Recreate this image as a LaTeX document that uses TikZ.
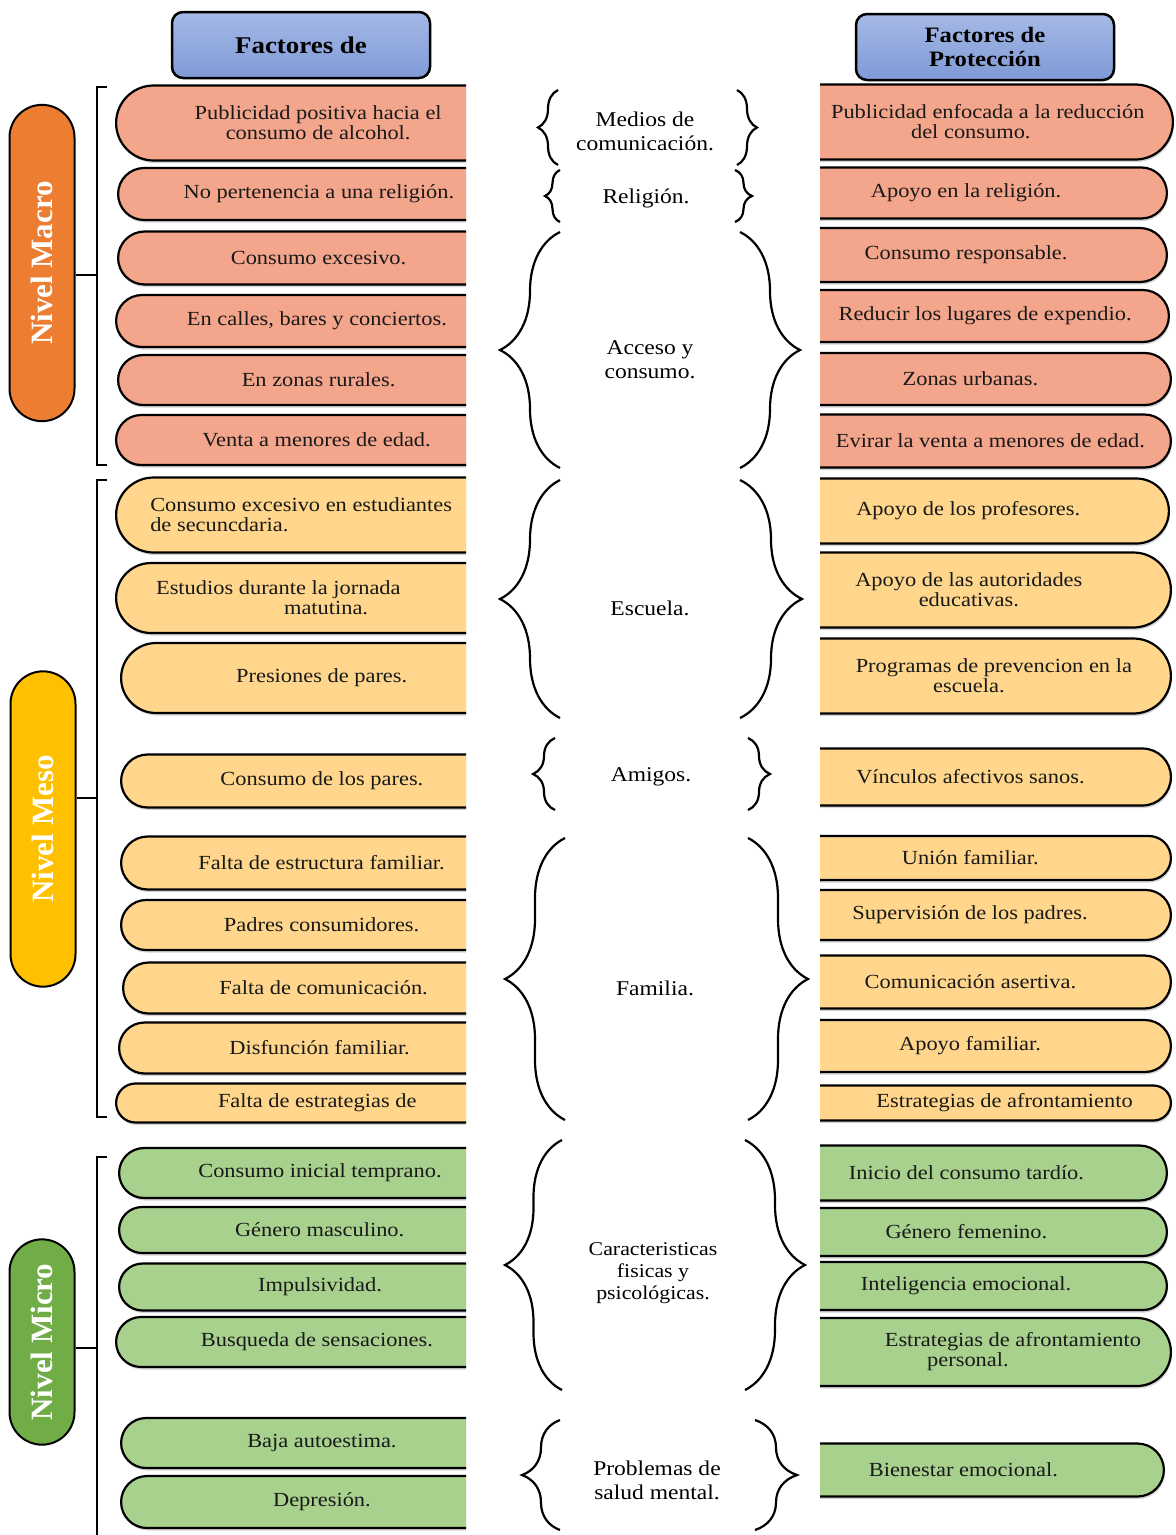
\documentclass[tikz,border=0pt]{standalone}
\usepackage{fontspec}
\setmainfont[FakeStretch=1.12]{Liberation Serif}
\newfontfamily\pillfont{Liberation Serif}
\usetikzlibrary{shapes.misc,shadows,decorations.pathreplacing,positioning}
\definecolor{headTop}{HTML}{A6B9E6}
\definecolor{headBot}{HTML}{7E9AD6}
\definecolor{macroFill}{HTML}{F4A68C}
\definecolor{mesoFill}{HTML}{FFD68B}
\definecolor{microFill}{HTML}{A9D18E}
\definecolor{macroPill}{HTML}{ED7D31}
\definecolor{mesoPill}{HTML}{FFC000}
\definecolor{microPill}{HTML}{70AD47}
\tikzset{
  riskbox/.style={rounded rectangle, rounded rectangle right arc=none, draw=black,
    line width=2.2pt, fill=#1, minimum width=400pt, anchor=west, align=center,
    inner sep=0pt, text=black!90, font=\fontsize{20}{20}\selectfont,
    drop shadow={opacity=0.35, shadow xshift=1pt, shadow yshift=-2.5pt}},
  protbox/.style={rounded rectangle, rounded rectangle left arc=none, draw=black,
    line width=2.2pt, fill=#1, minimum width=400pt, anchor=east, align=center,
    inner sep=0pt, text=black!90, font=\fontsize{20}{20}\selectfont,
    drop shadow={opacity=0.35, shadow xshift=1pt, shadow yshift=-2.5pt}},
  header/.style={draw, line width=2.5pt, rounded corners=11pt, top color=headTop,
    bottom color=headBot, minimum width=258pt, minimum height=66pt, align=center,
    font=\bfseries\fontsize{24}{24}\selectfont},
  levelpill/.style={rounded rectangle, draw, line width=2pt, fill=#1, rotate=90,
    text=white, minimum height=65pt, font=\pillfont\bfseries\fontsize{31}{31}\selectfont},
  bracketline/.style={line width=2pt},
  groupbrace/.style={decorate, decoration={brace, amplitude=#1}, line width=2.2pt},
  midlabel/.style={align=center, font=\fontsize{21}{24}\selectfont}
}
\begin{document}
\begin{tikzpicture}[x=1pt,y=-1pt]
    \useasboundingbox (0,0) rectangle (1176,1535);

    \node[header] (riskHead) at (301,45) {Factores de};
    \node[header, font=\bfseries\fontsize{22}{24}\selectfont] (protHead) at (985,47) {Factores de\\Protección};

    % niveles
    \node[levelpill=macroPill, minimum width=323pt] (macroLvl) at (42,263) {Nivel Macro};
    \node[levelpill=mesoPill, minimum width=322pt] (mesoLvl) at (43,829) {Nivel Meso};
    \node[levelpill=microPill, minimum width=212pt] (microLvl) at (42,1342) {Nivel Micro};

    \coordinate (macroTop) at (107,87);
    \coordinate (macroBot) at (107,465);
    \coordinate (macroJoin) at (97,275);
    \coordinate (mesoTop) at (107,480);
    \coordinate (mesoBot) at (107,1117);
    \coordinate (mesoJoin) at (97,798);
    \coordinate (microTop) at (107,1157);
    \coordinate (microBot) at (97,1540);
    \coordinate (microJoin) at (97,1348);

    \draw[bracketline] (macroTop) -- ++(-10,0) |- (macroBot);
    \draw[bracketline] (macroLvl.south |- macroJoin) -- (macroJoin);
    \draw[bracketline] (mesoTop) -- ++(-10,0) |- (mesoBot);
    \draw[bracketline] (mesoLvl.south |- mesoJoin) -- (mesoJoin);
    \draw[bracketline] (microTop) -- ++(-10,0) -- (microBot);
    \draw[bracketline] (microLvl.south |- microJoin) -- (microJoin);

    % factores de riesgo
    \begin{scope}
    \clip (0,0) rectangle (466,1535);
    \node[riskbox=macroFill, minimum height=75pt] (r1) at (115,123) {Publicidad positiva hacia el\\consumo de alcohol.};
    \node[riskbox=macroFill, minimum height=52pt] (r2) at (117,194) {No pertenencia a una religión.};
    \node[riskbox=macroFill, minimum height=53pt] (r3) at (117,258) {Consumo excesivo.};
    \node[riskbox=macroFill, minimum height=52pt] (r4) at (115,321) {En calles, bares y conciertos.};
    \node[riskbox=macroFill, minimum height=50pt] (r5) at (117,380) {En zonas rurales.};
    \node[riskbox=macroFill, minimum height=50pt] (r6) at (115,440) {Venta a menores de edad.};
    \node[riskbox=mesoFill, minimum height=75pt, align=left] (r7) at (115,515) {Consumo excesivo en estudiantes\hspace*{34pt}\\de secuncdaria.};
    \node[riskbox=mesoFill, minimum height=70pt, align=left] (r8) at (115,598) {Estudios durante la jornada\hspace*{80pt}\\\hspace*{128pt}matutina.};
    \node[riskbox=mesoFill, minimum height=70pt] (r9) at (120,678) {Presiones de pares.};
    \node[riskbox=mesoFill, minimum height=53pt] (r10) at (120,781) {Consumo de los pares.};
    \node[riskbox=mesoFill, minimum height=53pt] (r11) at (120,863) {Falta de estructura familiar.};
    \node[riskbox=mesoFill, minimum height=50pt] (r12) at (120,925) {Padres consumidores.};
    \node[riskbox=mesoFill, minimum height=51pt] (r13) at (122,988) {Falta de comunicación.};
    \node[riskbox=mesoFill, minimum height=51pt] (r14) at (118,1048) {Disfunción familiar.};
    \node[riskbox=mesoFill, minimum height=39pt] (r15) at (115,1103) {Falta de estrategias de};
    \node[riskbox=microFill, minimum height=50pt] (r16) at (118,1173) {Consumo inicial temprano.};
    \node[riskbox=microFill, minimum height=46pt] (r17) at (118,1230) {Género masculino.};
    \node[riskbox=microFill, minimum height=47pt] (r18) at (118,1287) {Impulsividad.};
    \node[riskbox=microFill, minimum height=50pt] (r19) at (115,1342) {Busqueda de sensaciones.};
    \node[riskbox=microFill, minimum height=50pt] (r20) at (120,1443) {Baja autoestima.};
    \node[riskbox=microFill, minimum height=52pt] (r21) at (120,1502) {Depresión.};
    \end{scope}

    % factores de proteccion
    \begin{scope}
    \clip (820,0) rectangle (1176,1535);
    \node[protbox=macroFill, minimum height=75pt] (p1) at (1174,122) {\hspace*{34pt}Publicidad enfocada a la reducción\\del consumo.};
    \node[protbox=macroFill, minimum height=51pt] (p2) at (1168,193) {Apoyo en la religión.};
    \node[protbox=macroFill, minimum height=54pt] (p3) at (1168,255) {Consumo responsable.};
    \node[protbox=macroFill, minimum height=52pt] (p4) at (1170,316) {\hspace*{34pt}Reducir los lugares de expendio.};
    \node[protbox=macroFill, minimum height=52pt] (p5) at (1172,379) {Zonas urbanas.};
    \node[protbox=macroFill, minimum height=53pt] (p6) at (1172,441) {\hspace*{40pt}Evirar la venta a menores de edad.};
    \node[protbox=mesoFill, minimum height=65pt] (p7) at (1170,511) {Apoyo de los profesores.};
    \node[protbox=mesoFill, minimum height=75pt] (p8) at (1172,590) {Apoyo de las autoridades\\educativas.};
    \node[protbox=mesoFill, minimum height=75pt] (p9) at (1172,676) {\hspace*{50pt}Programas de prevencion en la\\escuela.};
    \node[protbox=mesoFill, minimum height=57pt] (p10) at (1172,777) {Vínculos afectivos sanos.};
    \node[protbox=mesoFill, minimum height=44pt] (p11) at (1172,858) {Unión familiar.};
    \node[protbox=mesoFill, minimum height=50pt] (p12) at (1172,915) {Supervisión de los padres.};
    \node[protbox=mesoFill, minimum height=53pt] (p13) at (1172,982) {Comunicación asertiva.};
    \node[protbox=mesoFill, minimum height=52pt] (p14) at (1172,1046) {Apoyo familiar.};
    \node[protbox=mesoFill, minimum height=35pt] (p15) at (1172,1103) {\hspace*{70pt}Estrategias de afrontamiento};
    \node[protbox=microFill, minimum height=55pt] (p16) at (1168,1173) {Inicio del consumo tardío.};
    \node[protbox=microFill, minimum height=48pt] (p17) at (1168,1232) {Género femenino.};
    \node[protbox=microFill, minimum height=48pt] (p18) at (1168,1286) {Inteligencia emocional.};
    \node[protbox=microFill, minimum height=68pt] (p19) at (1172,1352) {\hspace*{90pt}Estrategias de afrontamiento\\personal.};
    \node[protbox=microFill, minimum height=53pt] (p20) at (1165,1470) {Bienestar emocional.};
    \end{scope}

    % categorias
    \node[midlabel] (medios) at (645,131) {Medios de\\comunicación.};
    \node[midlabel] (religion) at (646,198) {Religión.};
    \node[midlabel] (acceso) at (650,360) {Acceso y\\consumo.};
    \node[midlabel] (escuela) at (650,608) {Escuela.};
    \node[midlabel] (amigos) at (651,777) {Amigos.};
    \node[midlabel] (familia) at (655,988) {Familia.};
    \node[midlabel, font=\fontsize{19.5}{22}\selectfont] (caract) at (653,1273) {Caracteristicas\\fisicas y\\psicológicas.};
    \node[midlabel] (salud) at (657,1480) {Problemas de\\salud mental.};

    \draw[groupbrace=20] (558,165) -- (558,90);
    \draw[groupbrace=20] (737,90) -- (737,165);
    \draw[groupbrace=15] (560,222) -- (560,170);
    \draw[groupbrace=17] (735,170) -- (735,222);
    \draw[groupbrace=60] (560,468) -- (560,232);
    \draw[groupbrace=60] (740,232) -- (740,468);
    \draw[groupbrace=60] (560,718) -- (560,480);
    \draw[groupbrace=62] (740,480) -- (740,718);
    \draw[groupbrace=22] (555,810) -- (555,738);
    \draw[groupbrace=22] (748,738) -- (748,810);
    \draw[groupbrace=60] (565,1120) -- (565,838);
    \draw[groupbrace=60] (748,838) -- (748,1120);
    \draw[groupbrace=57] (562,1390) -- (562,1140);
    \draw[groupbrace=60] (745,1140) -- (745,1390);
    \draw[groupbrace=38] (560,1530) -- (560,1420);
    \draw[groupbrace=42] (755,1420) -- (755,1530);
\end{tikzpicture}
\end{document}
